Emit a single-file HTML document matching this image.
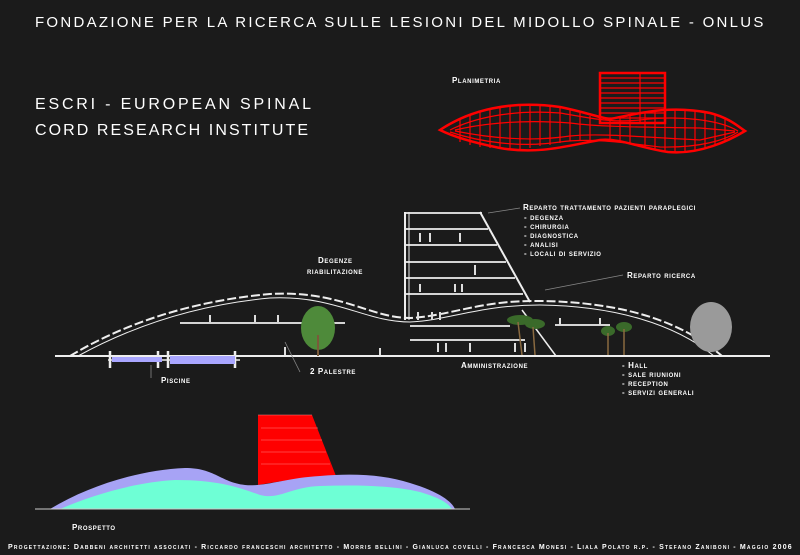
<!DOCTYPE html>
<html><head><meta charset="utf-8"><style>
body{margin:0;background:#1b1b1b;}
svg{display:block}
text{font-family:"Liberation Sans",sans-serif;fill:#fff;}
.sc{font-variant:small-caps;font-size:8px;font-weight:bold;letter-spacing:0.6px}
</style></head><body>
<svg width="800" height="555" viewBox="0 0 800 555" xmlns="http://www.w3.org/2000/svg">
<rect width="800" height="555" fill="#1b1b1b"/>
<text x="400" y="27" text-anchor="middle" font-size="15" letter-spacing="1.6" textLength="730">FONDAZIONE PER LA RICERCA SULLE LESIONI DEL MIDOLLO SPINALE - ONLUS</text>
<text x="35" y="109" font-size="16" letter-spacing="2" textLength="278">ESCRI - EUROPEAN SPINAL</text>
<text x="35" y="135" font-size="16" letter-spacing="2" textLength="275">CORD RESEARCH INSTITUTE</text>
<text x="452" y="83" class="sc">Planimetria</text>
<g stroke="#f00" fill="none" stroke-width="2.5">
<path d="M440 130 C470 110 510 100 560 107 C585 112 600 118 610 119 C640 113 670 105 710 113 C730 118 740 128 745 131 C730 140 700 155 668 152 C640 148 620 138 600 140 C570 145 540 155 500 148 C470 142 450 135 440 130Z"/>
<rect x="600" y="73" width="65" height="50"/>
</g>
<g stroke="#f00" fill="none" stroke-width="1.2">
<path d="M450 130 C480 115 520 110 560 113 C590 118 610 123 640 120 C680 115 720 120 738 131"/>
<path d="M455 130 C490 122 530 120 570 123 C600 127 640 127 700 128 L735 131"/>
<path d="M455 131 C490 138 530 142 570 136 C600 133 640 137 700 140 L735 132"/>
<path d="M450 132 C480 142 520 148 560 142 C590 138 620 142 660 147 C700 148 725 140 738 132"/>
<path d="M600 78 H665 M600 83 H665 M600 88 H665 M600 93 H665 M600 98 H665 M600 103 H665 M600 108 H665 M600 113 H665 M600 118 H665 M640 73 V123"/>
<path d="M460 120V142 M470 115V145 M480 112V147 M490 109V148 M500 107V149 M510 105V149 M520 104V149 M530 104V148 M540 105V146 M550 106V145 M560 107V143 M570 110V141 M580 113V140 M590 116V140 M610 119V140 M620 118V141 M630 116V143 M645 113V148 M655 111V150 M665 110V152 M675 110V152 M685 110V151 M695 111V150 M705 113V148 M715 115V146 M725 119V142"/>
</g>
<g stroke="#eee" fill="none">
<line x1="55" y1="356" x2="770" y2="356" stroke-width="2"/>
<path d="M70 356 C130 320 200 300 270 294 C340 290 370 318 410 318 C450 316 480 300 540 301 C620 302 680 320 722 356" stroke-width="2" stroke-dasharray="9 3"/>
<path d="M78 356 C140 322 205 304 270 298 C335 295 365 322 410 322 C450 320 480 305 540 305 C615 306 675 324 714 356" stroke-width="1"/>
<line x1="405" y1="212" x2="405" y2="320" stroke-width="2"/>
<line x1="409" y1="212" x2="409" y2="320" stroke-width="1"/>
<line x1="480" y1="212" x2="530" y2="302" stroke-width="2"/>
<path d="M405 213H482 M405 229H488 M405 245H497 M405 262H506 M405 278H515 M405 294H523 M410 326H510 M410 340H525 M180 323H318 M290 323H345 M555 325H610" stroke-width="1.8"/>
<path d="M522 310L556 356" stroke-width="1.5"/>
<line x1="108" y1="360" x2="240" y2="360" stroke-width="1.5"/>
<path d="M110 351V368 M158 351V368 M168 351V368 M235 351V368" stroke-width="2.5"/>
</g>
<rect x="112" y="357" width="50" height="5" fill="#a9a6ff"/>
<rect x="170" y="356" width="65" height="8" fill="#a9a6ff"/>
<g stroke="#ddd" stroke-width="2">
<path d="M210 315V322 M255 315V322 M278 315V322 M420 233V242 M430 233V242 M460 233V242 M475 265V275 M420 284V292 M455 284V292 M462 284V292 M418 312V320 M432 312V320 M440 312V320 M438 343V352 M446 343V352 M470 343V352 M515 343V352 M525 343V352 M560 318V325 M600 318V325 M285 347V355 M380 348V355"/>
</g>
<g fill="#4e8a3a"><ellipse cx="318" cy="328" rx="17" ry="22"/></g>
<line x1="318" y1="335" x2="318" y2="356" stroke="#7a5a3a" stroke-width="2"/>
<ellipse cx="711" cy="327" rx="21" ry="25" fill="#9a9a9a"/>
<g fill="#3a6a2a"><ellipse cx="520" cy="320" rx="13" ry="5"/><ellipse cx="535" cy="324" rx="10" ry="5"/><ellipse cx="608" cy="331" rx="7" ry="5"/><ellipse cx="624" cy="327" rx="8" ry="5"/></g>
<path d="M518 322L522 355 M533 327L535 355 M608 333V355 M624 329V355" stroke="#8a6a40" stroke-width="1.5"/>
<g stroke="#888" stroke-width="0.8" fill="none">
<path d="M488 213L520 208 M545 290L623 275 M151 365V378 M285 342L300 372"/>
</g>
<text x="523" y="210" class="sc">Reparto trattamento pazienti paraplegici</text>
<text x="524" y="220" class="sc">- degenza</text>
<text x="524" y="229" class="sc">- chirurgia</text>
<text x="524" y="238" class="sc">- diagnostica</text>
<text x="524" y="247" class="sc">- analisi</text>
<text x="524" y="256" class="sc">- locali di servizio</text>
<text x="627" y="278" class="sc">Reparto ricerca</text>
<text x="318" y="263" class="sc">Degenze</text>
<text x="307" y="274" class="sc">riabilitazione</text>
<text x="461" y="368" class="sc">Amministrazione</text>
<text x="161" y="383" class="sc">Piscine</text>
<text x="310" y="374" class="sc">2 Palestre</text>
<text x="622" y="368" class="sc">- Hall</text>
<text x="622" y="377" class="sc">- sale riunioni</text>
<text x="622" y="386" class="sc">- reception</text>
<text x="622" y="395" class="sc">- servizi generali</text>
<path d="M258 415H312L336 476 C300 478 275 482 258 485Z" fill="#ff0000"/>
<path d="M261 428H318 M261 440H322 M261 452H326 M261 464H330 M258 415H312" stroke="#ff8080" stroke-width="0.6"/>
<path d="M50 509 C90 485 140 470 185 468 C215 468 220 482 245 485 C265 487 285 478 320 476 C355 473 385 475 410 483 C440 492 452 502 455 509Z" fill="#a7a3f5"/>
<path d="M60 509 C100 492 140 482 175 480 C220 480 240 488 260 495 C280 500 290 487 320 486 C355 485 390 485 420 492 C440 498 448 503 452 509Z" fill="#6effd5"/>
<line x1="35" y1="509" x2="470" y2="509" stroke="#ccc" stroke-width="1"/>
<text x="72" y="530" class="sc">Prospetto</text>
<text x="8" y="549" font-size="7" font-weight="bold" style="font-variant:small-caps" textLength="784" letter-spacing="0.3">Progettazione: Dabbeni architetti associati - Riccardo franceschi architetto - Morris bellini - Gianluca covelli - Francesca Monesi - Liala Polato r.p. - Stefano Zaniboni - Maggio 2006</text>
</svg>
</body></html>
